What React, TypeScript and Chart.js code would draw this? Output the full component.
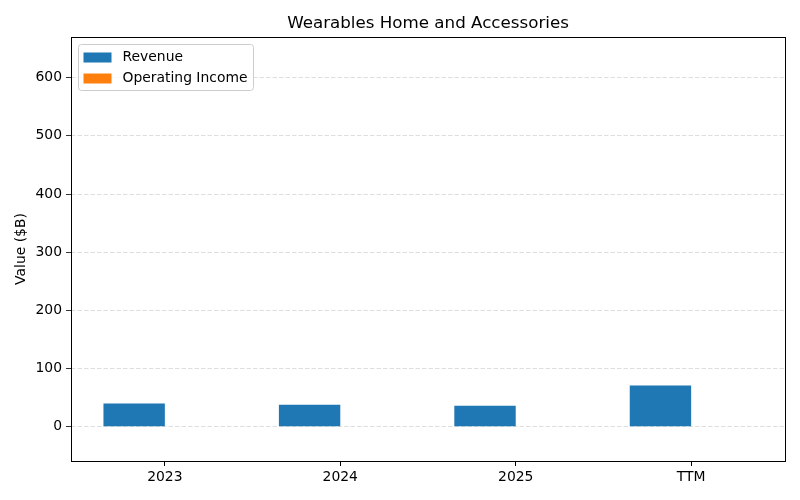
import React, { useEffect, useRef } from "react";
import { Chart, registerables } from "chart.js";

Chart.register(...registerables);

const categories = ["2023", "2024", "2025", "TTM"];
const revenue = [39.8, 37.8, 36.0, 70.8];
const operatingIncome = [0, 0, 0, 0];
const yTicks = [0, 100, 200, 300, 400, 500, 600];
const chartTitle = "Wearables Home and Accessories";
const yAxisTitle = "Value ($B)";

const FONT = "'DejaVu Sans', sans-serif";

const framePlugin = {
  id: "frameAndLegend",
  afterDraw(chart: any) {
    const { ctx, chartArea: ca } = chart;
    ctx.save();
    // frame
    ctx.strokeStyle = "#000";
    ctx.lineWidth = 1;
    ctx.strokeRect(Math.round(ca.left) + 0.5, Math.round(ca.top) + 0.5, Math.round(ca.right - ca.left), Math.round(ca.bottom - ca.top));
    // title
    ctx.fillStyle = "#000";
    ctx.font = `16.7px ${FONT}`;
    ctx.textAlign = "center";
    ctx.textBaseline = "middle";
    ctx.fillText(chartTitle, (ca.left + ca.right) / 2, 24);
    // legend
    const items = chart.data.datasets.map((d: any) => ({ label: d.label, color: d.backgroundColor }));
    ctx.font = `13.9px ${FONT}`;
    let maxW = 0;
    items.forEach((it: any) => { maxW = Math.max(maxW, ctx.measureText(it.label).width); });
    const bx = ca.left + 7.5;
    const by = ca.top + 7.5;
    const bw = 44 + maxW + 6;
    const rowH = 21;
    const bh = 4 + rowH * items.length;
    const r = 3;
    ctx.beginPath();
    ctx.moveTo(bx + r, by);
    ctx.lineTo(bx + bw - r, by);
    ctx.quadraticCurveTo(bx + bw, by, bx + bw, by + r);
    ctx.lineTo(bx + bw, by + bh - r);
    ctx.quadraticCurveTo(bx + bw, by + bh, bx + bw - r, by + bh);
    ctx.lineTo(bx + r, by + bh);
    ctx.quadraticCurveTo(bx, by + bh, bx, by + bh - r);
    ctx.lineTo(bx, by + r);
    ctx.quadraticCurveTo(bx, by, bx + r, by);
    ctx.closePath();
    ctx.fillStyle = "rgba(255,255,255,0.8)";
    ctx.fill();
    ctx.strokeStyle = "#cccccc";
    ctx.stroke();
    ctx.textAlign = "left";
    ctx.textBaseline = "middle";
    items.forEach((it: any, i: number) => {
      const cy = by + 13 + i * rowH;
      ctx.fillStyle = it.color;
      ctx.fillRect(bx + 5, cy - 5, 28, 10);
      ctx.fillStyle = "#000";
      ctx.fillText(it.label, bx + 44, cy);
    });
    ctx.restore();
  },
};

export default function App() {
  const ref = useRef<HTMLCanvasElement | null>(null);
  useEffect(() => {
    if (!ref.current) return;
    const chart = new Chart(ref.current, {
      type: "bar",
      data: {
        datasets: [
          {
            label: "Revenue",
            data: categories.map((_, i) => ({ x: i, y: revenue[i] })),
            backgroundColor: "#1f77b4",
            categoryPercentage: 0.7,
            barPercentage: 1,
          },
          {
            label: "Operating Income",
            data: categories.map((_, i) => ({ x: i, y: operatingIncome[i] })),
            backgroundColor: "#ff7f0e",
            categoryPercentage: 0.7,
            barPercentage: 1,
          },
        ],
      },
      options: {
        animation: false,
        responsive: false,
        devicePixelRatio: 1,
        layout: { padding: { left: 0, top: 37, right: 15, bottom: 0 } },
        plugins: {
          legend: { display: false },
          title: { display: false },
          tooltip: { enabled: false },
        },
        scales: {
          x: {
            type: "linear",
            min: -0.535,
            max: 3.535,
            offset: false,
            afterBuildTicks: (s: any) => { s.ticks = categories.map((_, i) => ({ value: i })); },
            afterFit: (s: any) => { s.height = 39; },
            grid: {
              offset: false,
              drawOnChartArea: false,
              color: "#000",
              tickColor: "#000",
              tickLength: 5,
            },
            border: { display: false },
            ticks: {
              color: "#000",
              font: { family: FONT, size: 13.9 },
              padding: 3,
              maxRotation: 0,
              autoSkip: false,
              callback: (v: any) => categories[v] ?? "",
            },
          },
          y: {
            min: -59,
            max: 670,
            afterBuildTicks: (s: any) => { s.ticks = yTicks.map((v) => ({ value: v })); },
            afterFit: (s: any) => { s.width = 71; },
            grid: {
              color: "#d6d6d6",
              lineWidth: 0.8,
              tickColor: "#000",
              tickLength: 5,
              tickBorderDash: [],
            },
            border: { display: false, dash: [4.5, 2] },
            ticks: {
              color: "#000",
              font: { family: FONT, size: 13.9 },
              padding: 4,
              autoSkip: false,
            },
            title: {
              display: true,
              text: yAxisTitle,
              color: "#000",
              font: { family: FONT, size: 13.9 },
              padding: { top: 13, bottom: 0 },
            },
          },
        },
      },
      plugins: [framePlugin],
    } as any);
    return () => chart.destroy();
  }, []);
  return (
    <div style={{ position: "fixed", left: 0, top: 0, width: 800, height: 500, background: "#fff" }}>
      <canvas ref={ref} width={800} height={500} style={{ width: 800, height: 500, display: "block" }} />
    </div>
  );
}
